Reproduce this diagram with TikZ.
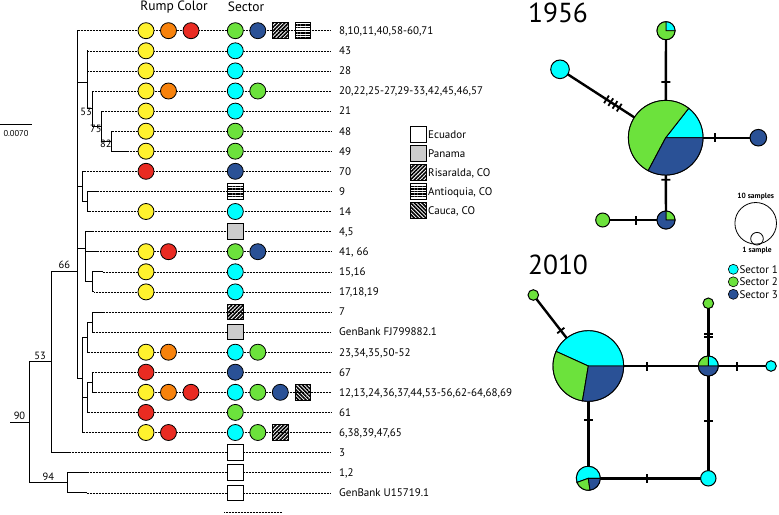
\documentclass[tikz,border=0pt]{standalone}
\usepackage{fontspec}
\setmainfont{PT Sans}
\usetikzlibrary{patterns.meta,backgrounds}
\definecolor{rumpyel}{HTML}{FFF22E}
\definecolor{rumpora}{HTML}{F7820C}
\definecolor{rumpred}{HTML}{E92B22}
\definecolor{seccyan}{HTML}{00FFFF}
\definecolor{secgreen}{HTML}{6CE23C}
\definecolor{secblue}{HTML}{2A5196}
\definecolor{panama}{HTML}{CCCCCC}
\newcommand{\hapslice}[5]{\filldraw[fill=#5, draw=black, line width=0.9pt] (#1.center) -- ++(#3:#2) arc[start angle=#3, end angle=#4, radius=#2] -- cycle;}

\begin{document}
\begin{tikzpicture}[x=1pt,y=-1pt]
\tikzstyle{every node}+=[inner sep=0pt]
\tikzstyle{branch}=[line width=0.9pt]
\tikzstyle{tipline}=[line width=0.5pt, densely dotted, shorten >=8pt]
\tikzstyle{dot}=[circle, draw, line width=0.8pt, minimum size=16pt]
\tikzstyle{rY}=[dot, fill=rumpyel]
\tikzstyle{rO}=[dot, fill=rumpora]
\tikzstyle{rR}=[dot, fill=rumpred]
\tikzstyle{sC}=[dot, fill=seccyan]
\tikzstyle{sG}=[dot, fill=secgreen]
\tikzstyle{sB}=[dot, fill=secblue]
\tikzstyle{sq}=[rectangle, draw, line width=1pt, minimum size=15.5pt]
\tikzstyle{cEcu}=[sq, fill=white]
\tikzstyle{cPan}=[sq, fill=panama]
\tikzstyle{cRis}=[sq, pattern={Lines[angle=45,distance=2.7pt,line width=1.6pt]}]
\tikzstyle{cAnt}=[sq, pattern={Lines[angle=0,distance=2.6pt,line width=1.4pt]}]
\tikzstyle{cCau}=[sq, pattern={Lines[angle=-45,distance=2.7pt,line width=1.6pt]}]
\tikzstyle{lab}=[anchor=west, text height=7.7pt, text depth=0pt, font=\fontsize{11}{13}\selectfont]
\tikzstyle{boot}=[font=\fontsize{10.5}{12}\selectfont]
\tikzstyle{hap}=[circle, draw, line width=1pt]
\tikzstyle{net}=[line width=2.4pt]
\tikzstyle{hapmark}=[sloped, fill=black, minimum width=1.8pt, minimum height=9pt]
\useasboundingbox (0,0) rectangle (779,514);

% scale bar and headers
\draw[branch] (0,124.3) -- (32.3,124.3);
\node[font=\fontsize{8.5}{9}\selectfont] (sbar) at (16,134) {0.0070};
\node[font=\fontsize{13.5}{15}\selectfont] (hrump) at (174,7) {Rump Color};
\node[font=\fontsize{13.5}{15}\selectfont] (hsec) at (246,7) {Sector};

% tree
\coordinate (root) at (10,422.3);
\coordinate (n90) at (29,422.3);
\coordinate (n53a) at (51,361.8);
\coordinate (n94) at (67.7,482.8);
\coordinate (n66) at (77.7,271);
\coordinate (nA) at (87.3,82);
\coordinate (n53b) at (92,108.6);
\coordinate (n75) at (101.7,126.2);
\coordinate (n82) at (111.7,141.2);
\coordinate (nB) at (82.3,186.4);
\coordinate (n9x) at (87.7,201.5);
\coordinate (nC) at (85,248);
\coordinate (n13x) at (92.3,281.9);
\coordinate (nD) at (82.3,378);
\coordinate (nE) at (87.3,337.2);
\coordinate (n15x) at (92.3,322.1);
\coordinate (nF) at (87.3,397.4);
\coordinate (n18x) at (92,382.3);
\coordinate (t1) at (79,30.7);
\coordinate (t2) at (88,50.8);
\coordinate (t3) at (88,70.9);
\coordinate (t4) at (93,91.0);
\coordinate (t5) at (103,111.1);
\coordinate (t6) at (113,131.2);
\coordinate (t7) at (126.7,151.2);
\coordinate (t8) at (85,171.3);
\coordinate (t9) at (98,191.4);
\coordinate (t10) at (90,211.5);
\coordinate (t11) at (93,231.6);
\coordinate (t12) at (96.7,251.7);
\coordinate (t13) at (102.7,271.8);
\coordinate (t14) at (94,291.9);
\coordinate (t15) at (102.7,312.0);
\coordinate (t16) at (94,332.1);
\coordinate (t17) at (89,352.2);
\coordinate (t18) at (93,372.2);
\coordinate (t19) at (96,392.3);
\coordinate (t20) at (89,412.4);
\coordinate (t21) at (84,432.5);
\coordinate (t22) at (70,452.6);
\coordinate (t23) at (86.7,472.7);
\coordinate (t24) at (86.7,492.8);
\draw[branch] (root) -- (n90);
\draw[branch] (n90) |- (n53a) (n90) |- (n94);
\draw[branch] (n53a) |- (n66) (n53a) |- (t22);
\draw[branch] (n94) |- (t23) (n94) |- (t24);
\draw[branch] (n66) |- (t1) (n66) |- (nA) (n66) |- (nB) (n66) |- (nC) (n66) |- (nD);
\draw[branch] (nA) |- (t2) (nA) |- (t3) (nA) |- (n53b);
\draw[branch] (n53b) |- (t4) (n53b) |- (n75);
\draw[branch] (n75) |- (t5) (n75) |- (n82);
\draw[branch] (n82) |- (t6) (n82) |- (t7);
\draw[branch] (nB) |- (t8) (nB) |- (n9x);
\draw[branch] (n9x) |- (t9) (n9x) |- (t10);
\draw[branch] (nC) |- (t11) (nC) |- (t12) (nC) |- (n13x);
\draw[branch] (n13x) |- (t13) (n13x) |- (t14);
\draw[branch] (nD) |- (nE) (nD) |- (nF) (nD) |- (t21);
\draw[branch] (nE) |- (n15x) (nE) |- (t17);
\draw[branch] (n15x) |- (t15) (n15x) |- (t16);
\draw[branch] (nF) |- (n18x) (nF) |- (t20);
\draw[branch] (n18x) |- (t18) (n18x) |- (t19);
\path (root) -- node[boot, above=2pt] {90} (n90);
\path (n90 |- n53a) -- node[boot, above=2pt] {53} (n53a);
\path (n53a |- n66) -- node[boot, above=2pt] {66} (n66);
\path (n90 |- n94) -- node[boot, above=2pt] {94} (n94);
\node[boot, anchor=north east] (b53) at ([yshift=1pt]n53b) {53};
\node[boot, anchor=north east] (b75) at ([yshift=1pt]n75) {75};
\node[boot, anchor=north east] (b82) at ([yshift=1pt]n82) {82};

% rows: labels, dotted lines, rump colour and sector
\node[lab] (l1) at (339,30.7) {8,10,11,40,58-60,71};
\node[lab] (l2) at (339,50.8) {43};
\node[lab] (l3) at (339,70.9) {28};
\node[lab] (l4) at (339,91.0) {20,22,25-27,29-33,42,45,46,57};
\node[lab] (l5) at (339,111.1) {21};
\node[lab] (l6) at (339,131.2) {48};
\node[lab] (l7) at (339,151.2) {49};
\node[lab] (l8) at (339,171.3) {70};
\node[lab] (l9) at (339,191.4) {9};
\node[lab] (l10) at (339,211.5) {14};
\node[lab] (l11) at (339,231.6) {4,5};
\node[lab] (l12) at (339,251.7) {41, 66};
\node[lab] (l13) at (339,271.8) {15,16};
\node[lab] (l14) at (339,291.9) {17,18,19};
\node[lab] (l15) at (339,312.0) {7};
\node[lab] (l16) at (339,332.1) {GenBank FJ799882.1};
\node[lab] (l17) at (339,352.2) {23,34,35,50-52};
\node[lab] (l18) at (339,372.2) {67};
\node[lab] (l19) at (339,392.3) {12,13,24,36,37,44,53-56,62-64,68,69};
\node[lab] (l20) at (339,412.4) {61};
\node[lab] (l21) at (339,432.5) {6,38,39,47,65};
\node[lab] (l22) at (339,452.6) {3};
\node[lab] (l23) at (339,472.7) {1,2};
\node[lab] (l24) at (339,492.8) {GenBank U15719.1};
\draw[tipline] (t1) -- (l1); \draw[tipline] (t2) -- (l2); \draw[tipline] (t3) -- (l3);
\draw[tipline] (t4) -- (l4); \draw[tipline] (t5) -- (l5); \draw[tipline] (t6) -- (l6);
\draw[tipline] (t7) -- (l7); \draw[tipline] (t8) -- (l8); \draw[tipline] (t9) -- (l9);
\draw[tipline] (t10) -- (l10); \draw[tipline] (t11) -- (l11); \draw[tipline] (t12) -- (l12);
\draw[tipline] (t13) -- (l13); \draw[tipline] (t14) -- (l14); \draw[tipline] (t15) -- (l15);
\draw[tipline] (t16) -- (l16); \draw[tipline] (t17) -- (l17); \draw[tipline] (t18) -- (l18);
\draw[tipline] (t19) -- (l19); \draw[tipline] (t20) -- (l20); \draw[tipline] (t21) -- (l21);
\draw[tipline] (t22) -- (l22); \draw[tipline] (t23) -- (l23); \draw[tipline] (t24) -- (l24);
\node[rY] (r1a) at (146,30.7) {}; \node[rO] (r1b) at (168.5,30.7) {}; \node[rR] (r1c) at (191,30.7) {};
\node[sG] (s1a) at (235.3,30.7) {}; \node[sB] (s1b) at (257.8,30.7) {}; \node[cRis] (s1c) at (280.3,30.7) {}; \node[cAnt] (s1d) at (302.8,30.7) {};
\node[rY] (r2a) at (146,50.8) {}; \node[sC] (s2a) at (235.3,50.8) {};
\node[rY] (r3a) at (146,70.9) {}; \node[sC] (s3a) at (235.3,70.9) {};
\node[rY] (r4a) at (146,91.0) {}; \node[rO] (r4b) at (168.5,91.0) {};
\node[sC] (s4a) at (235.3,91.0) {}; \node[sG] (s4b) at (257.8,91.0) {};
\node[rY] (r5a) at (146,111.1) {}; \node[sC] (s5a) at (235.3,111.1) {};
\node[rY] (r6a) at (146,131.2) {}; \node[sG] (s6a) at (235.3,131.2) {};
\node[rY] (r7a) at (146,151.2) {}; \node[sG] (s7a) at (235.3,151.2) {};
\node[rR] (r8a) at (146,171.3) {}; \node[sB] (s8a) at (235.3,171.3) {};
\node[cAnt] (s9a) at (235.3,191.4) {};
\node[rY] (r10a) at (146,211.5) {}; \node[sC] (s10a) at (235.3,211.5) {};
\node[cPan] (s11a) at (235.3,231.6) {};
\node[rY] (r12a) at (146,251.7) {}; \node[rR] (r12b) at (168.5,251.7) {};
\node[sG] (s12a) at (235.3,251.7) {}; \node[sB] (s12b) at (257.8,251.7) {};
\node[rY] (r13a) at (146,271.8) {}; \node[sC] (s13a) at (235.3,271.8) {};
\node[rY] (r14a) at (146,291.9) {}; \node[sC] (s14a) at (235.3,291.9) {};
\node[cRis] (s15a) at (235.3,312.0) {};
\node[cPan] (s16a) at (235.3,332.1) {};
\node[rY] (r17a) at (146,352.2) {}; \node[rO] (r17b) at (168.5,352.2) {};
\node[sC] (s17a) at (235.3,352.2) {}; \node[sG] (s17b) at (257.8,352.2) {};
\node[rR] (r18a) at (146,372.2) {}; \node[sB] (s18a) at (235.3,372.2) {};
\node[rY] (r19a) at (146,392.3) {}; \node[rO] (r19b) at (168.5,392.3) {}; \node[rR] (r19c) at (191,392.3) {};
\node[sC] (s19a) at (235.3,392.3) {}; \node[sG] (s19b) at (257.8,392.3) {}; \node[sB] (s19c) at (280.3,392.3) {}; \node[cCau] (s19d) at (302.8,392.3) {};
\node[rR] (r20a) at (146,412.4) {}; \node[sG] (s20a) at (235.3,412.4) {};
\node[rY] (r21a) at (146,432.5) {}; \node[rR] (r21b) at (168.5,432.5) {};
\node[sC] (s21a) at (235.3,432.5) {}; \node[sG] (s21b) at (257.8,432.5) {}; \node[cRis] (s21c) at (280.3,432.5) {};
\node[cEcu] (s22a) at (235.3,452.6) {};
\node[cEcu] (s23a) at (235.3,472.7) {};
\node[cEcu] (s24a) at (235.3,492.8) {};
\draw[line width=0.5pt, densely dotted] (224,512.5) -- (282,512.5);

% country legend
\node[cEcu] (kecu) at (418.3,134.7) {}; \node[lab] (kecut) at (428,134.7) {Ecuador};
\node[cPan] (kpan) at (418.3,153.6) {}; \node[lab] (kpant) at (428,153.6) {Panama};
\node[cRis] (kris) at (418.3,172.5) {}; \node[lab] (krist) at (428,172.5) {Risaralda, CO};
\node[cAnt] (kant) at (418.3,191.4) {}; \node[lab] (kantt) at (428,191.4) {Antioquia, CO};
\node[cCau] (kcau) at (418.3,210.3) {}; \node[lab] (kcaut) at (428,210.3) {Cauca, CO};

% 1956 network
\node[font=\fontsize{27.5}{30}\selectfont] (y56) at (558,13) {1956};
\node[hap, minimum size=74.6pt] (b56) at (665.7,137.7) {};
\node[hap, minimum size=18pt] (t56) at (666,30.7) {};
\node[hap, fill=seccyan, minimum size=18.6pt] (c56) at (560,69.3) {};
\node[hap, fill=secblue, minimum size=16.6pt] (r56) at (758.3,137.7) {};
\node[hap, minimum size=18pt] (d56) at (666,220) {};
\node[hap, fill=secgreen, minimum size=14pt] (g56) at (602.7,220) {};
\hapslice{b56}{37.3pt}{0}{52}{seccyan}
\hapslice{b56}{37.3pt}{52}{242}{secgreen}
\hapslice{b56}{37.3pt}{242}{360}{secblue}
\hapslice{t56}{9pt}{0}{90}{seccyan}
\hapslice{t56}{9pt}{90}{360}{secgreen}
\hapslice{d56}{9pt}{0}{90}{secgreen}
\hapslice{d56}{9pt}{90}{360}{secblue}

% 2010 network
\node[font=\fontsize{27.5}{30}\selectfont] (y10) at (558,265) {2010};
\node[hap, minimum size=70.6pt] (b10) at (588.3,366) {};
\node[hap, fill=secgreen, minimum size=10.6pt] (g10) at (533.3,295) {};
\node[hap, minimum size=20pt] (m10) at (708.3,366) {};
\node[hap, fill=seccyan, minimum size=10.6pt] (c10) at (771,366) {};
\node[hap, fill=secgreen, minimum size=10.6pt] (u10) at (708.3,303.3) {};
\node[hap, fill=seccyan, minimum size=15.4pt] (e10) at (708.3,478.3) {};
\node[hap, minimum size=24pt] (s10) at (588.3,478.3) {};
\hapslice{b10}{35.3pt}{0}{155.6}{seccyan}
\hapslice{b10}{35.3pt}{155.6}{260.5}{secgreen}
\hapslice{b10}{35.3pt}{260.5}{360}{secblue}
\hapslice{m10}{10pt}{0}{90}{seccyan}
\hapslice{m10}{10pt}{90}{180}{secgreen}
\hapslice{m10}{10pt}{180}{360}{secblue}
\hapslice{s10}{12pt}{0}{200}{seccyan}
\hapslice{s10}{12pt}{200}{278}{secgreen}
\hapslice{s10}{12pt}{278}{360}{secblue}

\begin{pgfonlayer}{background}
\draw[net] (t56.center) -- node[hapmark, pos=.48] {} (b56.center);
\draw[net] (c56.center) -- node[hapmark, pos=.44] {} node[hapmark, pos=.48] {} node[hapmark, pos=.52] {} node[hapmark, pos=.56] {} (b56.center);
\draw[net] (b56.center) -- node[hapmark, pos=.53] {} (r56.center);
\draw[net] (b56.center) -- node[hapmark, pos=.51] {} (d56.center);
\draw[net] (g56.center) -- node[hapmark, pos=.53] {} (d56.center);
\draw[net] (g10.center) -- node[hapmark, pos=.5] {} (b10.center);
\draw[net] (b10.center) -- node[hapmark, pos=.49] {} (m10.center);
\draw[net] (m10.center) -- node[hapmark, pos=.46] {} (c10.center);
\draw[net] (u10.center) -- node[hapmark, pos=.49] {} node[hapmark, pos=.54] {} (m10.center);
\draw[net] (m10.center) -- node[hapmark, pos=.49] {} (e10.center);
\draw[net] (b10.center) -- node[hapmark, pos=.48] {} (s10.center);
\draw[net] (s10.center) -- node[hapmark, pos=.49] {} (e10.center);
\end{pgfonlayer}

% size and sector legends
\node[hap, line width=0.8pt, minimum size=41.6pt] (k10) at (755.7,223.3) {};
\node[hap, line width=0.8pt, minimum size=12.6pt] (k1) at (757,238.7) {};
\node[font=\bfseries\fontsize{7.5}{8}\selectfont] (k10t) at (755.7,196.7) {10 samples};
\node[font=\bfseries\fontsize{7.5}{8}\selectfont] (k1t) at (757,250.5) {1 sample};
\node[hap, fill=seccyan, line width=0.6pt, minimum size=10pt] (ks1) at (733.3,269.3) {};
\node[hap, fill=secgreen, line width=0.6pt, minimum size=10pt] (ks2) at (733.3,281.8) {};
\node[hap, fill=secblue, line width=0.6pt, minimum size=10pt] (ks3) at (733.3,294.3) {};
\node[lab] (ks1t) at (739.3,269.3) {Sector 1};
\node[lab] (ks2t) at (739.3,281.8) {Sector 2};
\node[lab] (ks3t) at (739.3,294.3) {Sector 3};
\end{tikzpicture}
\end{document}
